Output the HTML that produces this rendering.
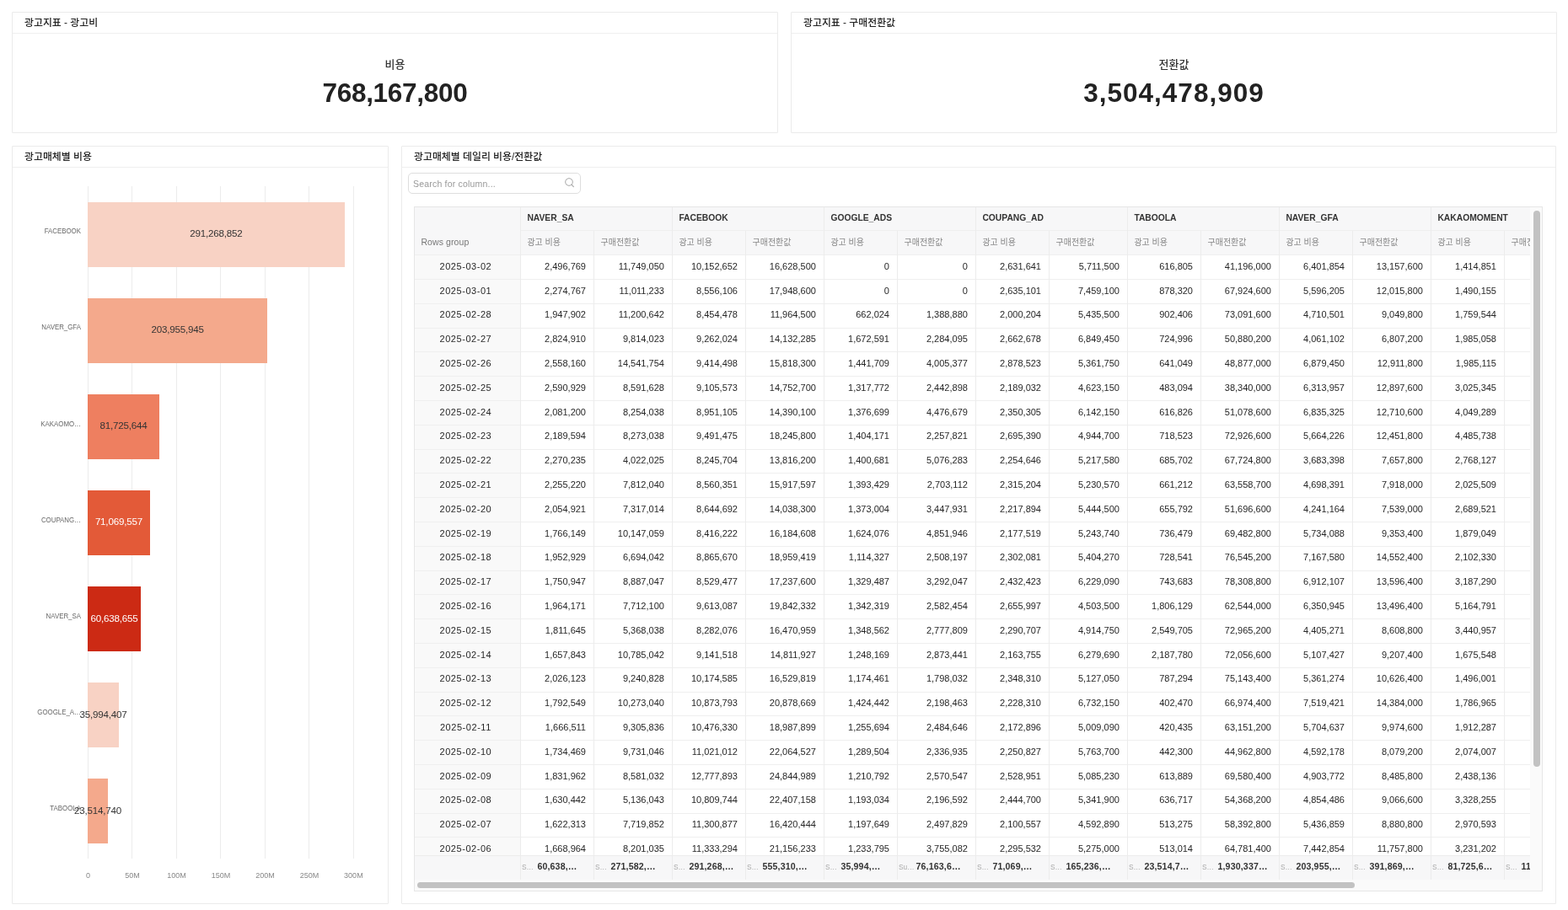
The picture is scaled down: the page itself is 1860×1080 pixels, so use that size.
<!DOCTYPE html>
<html lang="ko"><head><meta charset="utf-8"><title>dashboard</title>
<style>
*{box-sizing:border-box;margin:0;padding:0}
html,body{width:1860px;height:1080px;overflow:hidden;background:#fff}
body{position:relative;font-family:"Liberation Sans","Noto Sans CJK KR",sans-serif;color:#333}
.ab{position:absolute}
.panel{position:absolute;border:1px solid #ebebeb;border-radius:1px;background:#fff}
.ph{position:absolute;left:0;right:0;top:0;height:25px;border-bottom:1px solid #efefef;font-size:11.9px;line-height:25.4px;padding-left:14px;color:#222;font-weight:500;white-space:nowrap}
.bn{position:absolute;left:0;right:0;text-align:center;white-space:nowrap}
.bl{font-size:13px;color:#333;font-weight:500}
.bv{font-size:31.5px;font-weight:bold;color:#222}
.yl{position:absolute;font-size:9px;color:#666;text-align:right;width:70px;white-space:nowrap;transform:scaleX(0.875);transform-origin:100% 50%}
.xl{position:absolute;font-size:9px;color:#888;text-align:center;width:40px;white-space:nowrap}
.gl{position:absolute;width:1px;background:#ececec}
.bar{position:absolute}
.bt{position:absolute;font-size:11.6px;letter-spacing:-0.2px;white-space:nowrap;text-align:center;width:120px}
.c{position:absolute;white-space:nowrap;overflow:hidden;font-size:11px;color:#262626}
.hd{background:#f7f7f8}
.num{text-align:right;padding-right:9.5px}
.vl{position:absolute;width:1px;background:#ececec}
.hl{position:absolute;height:1px;background:#efefef}
</style></head><body>

<div class="panel" style="left:14px;top:14px;width:909px;height:144px"><div class="ph">광고지표 - 광고비</div><div class="bn bl" style="top:50.5px">비용</div><div class="bn bv" style="top:76.5px;letter-spacing:-0.27px">768,167,800</div></div>
<div class="panel" style="left:938px;top:14px;width:909px;height:144px"><div class="ph">광고지표 - 구매전환값</div><div class="bn bl" style="top:50.5px">전환값</div><div class="bn bv" style="top:76.5px;letter-spacing:1.0px">3,504,478,909</div></div>
<div class="panel" style="left:14px;top:173px;width:447px;height:900px"><div class="ph">광고매체별 비용</div></div>
<div class="gl" style="left:104.00px;top:221px;height:798px"></div>
<div class="xl" style="left:84.50px;top:1034px">0</div>
<div class="gl" style="left:156.48px;top:221px;height:798px"></div>
<div class="xl" style="left:136.98px;top:1034px">50M</div>
<div class="gl" style="left:208.96px;top:221px;height:798px"></div>
<div class="xl" style="left:189.46px;top:1034px">100M</div>
<div class="gl" style="left:261.44px;top:221px;height:798px"></div>
<div class="xl" style="left:241.94px;top:1034px">150M</div>
<div class="gl" style="left:313.92px;top:221px;height:798px"></div>
<div class="xl" style="left:294.42px;top:1034px">200M</div>
<div class="gl" style="left:366.40px;top:221px;height:798px"></div>
<div class="xl" style="left:346.90px;top:1034px">250M</div>
<div class="gl" style="left:418.88px;top:221px;height:798px"></div>
<div class="xl" style="left:399.38px;top:1034px">300M</div>
<div class="bar" style="left:104px;top:239.50px;width:304.92px;height:77.3px;background:#f8d2c4"></div>
<div class="yl" style="left:26px;top:269.30px">FACEBOOK</div>
<div class="bt" style="left:196.46px;top:270.10px;color:#333">291,268,852</div>
<div class="bar" style="left:104px;top:353.60px;width:213.27px;height:77.3px;background:#f4a98c"></div>
<div class="yl" style="left:26px;top:383.40px">NAVER_GFA</div>
<div class="bt" style="left:150.64px;top:384.20px;color:#333">203,955,945</div>
<div class="bar" style="left:104px;top:467.70px;width:84.98px;height:77.3px;background:#ee7f60"></div>
<div class="yl" style="left:26px;top:497.50px">KAKAOMO…</div>
<div class="bt" style="left:86.49px;top:498.30px;color:#333">81,725,644</div>
<div class="bar" style="left:104px;top:581.80px;width:73.79px;height:77.3px;background:#e35a38"></div>
<div class="yl" style="left:26px;top:611.60px">COUPANG…</div>
<div class="bt" style="left:80.90px;top:612.40px;color:#fff">71,069,557</div>
<div class="bar" style="left:104px;top:695.90px;width:62.85px;height:77.3px;background:#cc2a14"></div>
<div class="yl" style="left:26px;top:725.70px">NAVER_SA</div>
<div class="bt" style="left:75.42px;top:726.50px;color:#fff">60,638,655</div>
<div class="bar" style="left:104px;top:810.00px;width:36.98px;height:77.3px;background:#f8d2c4"></div>
<div class="yl" style="left:26px;top:839.80px">GOOGLE_A…</div>
<div class="bt" style="left:62.49px;top:840.60px;color:#333">35,994,407</div>
<div class="bar" style="left:104px;top:924.10px;width:23.88px;height:77.3px;background:#f4a98c"></div>
<div class="yl" style="left:26px;top:953.90px">TABOOLA</div>
<div class="bt" style="left:55.94px;top:954.70px;color:#333">23,514,740</div>
<div class="panel" style="left:476px;top:173px;width:1370px;height:900px"><div class="ph">광고매체별 데일리 비용/전환값</div></div>
<div class="ab" style="left:484px;top:205px;width:204.5px;height:25px;border:1px solid #dedede;border-radius:5px;background:#fff"></div>
<div class="ab" style="left:490px;top:211.5px;font-size:10.5px;letter-spacing:0.2px;color:#999;white-space:nowrap">Search for column...</div>
<svg class="ab" style="left:668.7px;top:210px" width="14" height="14" viewBox="0 0 14 14"><circle cx="6" cy="6" r="4.3" fill="none" stroke="#a6a6a6" stroke-width="1"/><path d="M9.2 9.3 L11.4 11.6" stroke="#a6a6a6" stroke-width="1.1" stroke-linecap="round"/></svg>
<div class="ab" style="left:491.00px;top:245.00px;width:1339.00px;height:813.00px;background:#fafafa"></div>
<div class="ab" style="left:491.40px;top:245.20px;width:1324.00px;height:798.60px;overflow:hidden;background:#fff">
<div class="c hd" style="left:0;top:0;width:2000px;height:57.60px"></div>
<div class="c" style="left:0;top:57.60px;width:126.00px;height:800px;background:#f9f9f9"></div>
<div class="c" style="left:8px;top:35.80px;color:#777;font-size:10.5px;letter-spacing:0.1px">Rows group</div>
<div class="c" style="left:134.00px;top:8.3px;font-weight:bold;font-size:10.3px;color:#333">NAVER_SA</div>
<div class="c" style="left:134.00px;top:34.30px;font-size:10px;color:#888">광고 비용</div>
<div class="c" style="left:221.10px;top:34.30px;font-size:10px;color:#888;width:84.90px">구매전환값</div>
<div class="c" style="left:314.00px;top:8.3px;font-weight:bold;font-size:10.3px;color:#333">FACEBOOK</div>
<div class="c" style="left:314.00px;top:34.30px;font-size:10px;color:#888">광고 비용</div>
<div class="c" style="left:401.10px;top:34.30px;font-size:10px;color:#888;width:84.90px">구매전환값</div>
<div class="c" style="left:494.00px;top:8.3px;font-weight:bold;font-size:10.3px;color:#333">GOOGLE_ADS</div>
<div class="c" style="left:494.00px;top:34.30px;font-size:10px;color:#888">광고 비용</div>
<div class="c" style="left:581.10px;top:34.30px;font-size:10px;color:#888;width:84.90px">구매전환값</div>
<div class="c" style="left:674.00px;top:8.3px;font-weight:bold;font-size:10.3px;color:#333">COUPANG_AD</div>
<div class="c" style="left:674.00px;top:34.30px;font-size:10px;color:#888">광고 비용</div>
<div class="c" style="left:761.10px;top:34.30px;font-size:10px;color:#888;width:84.90px">구매전환값</div>
<div class="c" style="left:854.00px;top:8.3px;font-weight:bold;font-size:10.3px;color:#333">TABOOLA</div>
<div class="c" style="left:854.00px;top:34.30px;font-size:10px;color:#888">광고 비용</div>
<div class="c" style="left:941.10px;top:34.30px;font-size:10px;color:#888;width:84.90px">구매전환값</div>
<div class="c" style="left:1034.00px;top:8.3px;font-weight:bold;font-size:10.3px;color:#333">NAVER_GFA</div>
<div class="c" style="left:1034.00px;top:34.30px;font-size:10px;color:#888">광고 비용</div>
<div class="c" style="left:1121.10px;top:34.30px;font-size:10px;color:#888;width:84.90px">구매전환값</div>
<div class="c" style="left:1214.00px;top:8.3px;font-weight:bold;font-size:10.3px;color:#333">KAKAOMOMENT</div>
<div class="c" style="left:1214.00px;top:34.30px;font-size:10px;color:#888">광고 비용</div>
<div class="c" style="left:1301.10px;top:34.30px;font-size:10px;color:#888;width:84.90px">구매전환값</div>
<div class="c" style="left:0;top:64.60px;width:126.00px;text-align:center;letter-spacing:0.55px;padding-right:4px">2025-03-02</div>
<div class="c num" style="left:126.00px;top:64.60px;width:87.10px">2,496,769</div>
<div class="c num" style="left:213.10px;top:64.60px;width:92.90px">11,749,050</div>
<div class="c num" style="left:306.00px;top:64.60px;width:87.10px">10,152,652</div>
<div class="c num" style="left:393.10px;top:64.60px;width:92.90px">16,628,500</div>
<div class="c num" style="left:486.00px;top:64.60px;width:87.10px">0</div>
<div class="c num" style="left:573.10px;top:64.60px;width:92.90px">0</div>
<div class="c num" style="left:666.00px;top:64.60px;width:87.10px">2,631,641</div>
<div class="c num" style="left:753.10px;top:64.60px;width:92.90px">5,711,500</div>
<div class="c num" style="left:846.00px;top:64.60px;width:87.10px">616,805</div>
<div class="c num" style="left:933.10px;top:64.60px;width:92.90px">41,196,000</div>
<div class="c num" style="left:1026.00px;top:64.60px;width:87.10px">6,401,854</div>
<div class="c num" style="left:1113.10px;top:64.60px;width:92.90px">13,157,600</div>
<div class="c num" style="left:1206.00px;top:64.60px;width:87.10px">1,414,851</div>
<div class="c" style="left:0;top:93.40px;width:126.00px;text-align:center;letter-spacing:0.55px;padding-right:4px">2025-03-01</div>
<div class="c num" style="left:126.00px;top:93.40px;width:87.10px">2,274,767</div>
<div class="c num" style="left:213.10px;top:93.40px;width:92.90px">11,011,233</div>
<div class="c num" style="left:306.00px;top:93.40px;width:87.10px">8,556,106</div>
<div class="c num" style="left:393.10px;top:93.40px;width:92.90px">17,948,600</div>
<div class="c num" style="left:486.00px;top:93.40px;width:87.10px">0</div>
<div class="c num" style="left:573.10px;top:93.40px;width:92.90px">0</div>
<div class="c num" style="left:666.00px;top:93.40px;width:87.10px">2,635,101</div>
<div class="c num" style="left:753.10px;top:93.40px;width:92.90px">7,459,100</div>
<div class="c num" style="left:846.00px;top:93.40px;width:87.10px">878,320</div>
<div class="c num" style="left:933.10px;top:93.40px;width:92.90px">67,924,600</div>
<div class="c num" style="left:1026.00px;top:93.40px;width:87.10px">5,596,205</div>
<div class="c num" style="left:1113.10px;top:93.40px;width:92.90px">12,015,800</div>
<div class="c num" style="left:1206.00px;top:93.40px;width:87.10px">1,490,155</div>
<div class="c" style="left:0;top:122.20px;width:126.00px;text-align:center;letter-spacing:0.55px;padding-right:4px">2025-02-28</div>
<div class="c num" style="left:126.00px;top:122.20px;width:87.10px">1,947,902</div>
<div class="c num" style="left:213.10px;top:122.20px;width:92.90px">11,200,642</div>
<div class="c num" style="left:306.00px;top:122.20px;width:87.10px">8,454,478</div>
<div class="c num" style="left:393.10px;top:122.20px;width:92.90px">11,964,500</div>
<div class="c num" style="left:486.00px;top:122.20px;width:87.10px">662,024</div>
<div class="c num" style="left:573.10px;top:122.20px;width:92.90px">1,388,880</div>
<div class="c num" style="left:666.00px;top:122.20px;width:87.10px">2,000,204</div>
<div class="c num" style="left:753.10px;top:122.20px;width:92.90px">5,435,500</div>
<div class="c num" style="left:846.00px;top:122.20px;width:87.10px">902,406</div>
<div class="c num" style="left:933.10px;top:122.20px;width:92.90px">73,091,600</div>
<div class="c num" style="left:1026.00px;top:122.20px;width:87.10px">4,710,501</div>
<div class="c num" style="left:1113.10px;top:122.20px;width:92.90px">9,049,800</div>
<div class="c num" style="left:1206.00px;top:122.20px;width:87.10px">1,759,544</div>
<div class="c" style="left:0;top:151.00px;width:126.00px;text-align:center;letter-spacing:0.55px;padding-right:4px">2025-02-27</div>
<div class="c num" style="left:126.00px;top:151.00px;width:87.10px">2,824,910</div>
<div class="c num" style="left:213.10px;top:151.00px;width:92.90px">9,814,023</div>
<div class="c num" style="left:306.00px;top:151.00px;width:87.10px">9,262,024</div>
<div class="c num" style="left:393.10px;top:151.00px;width:92.90px">14,132,285</div>
<div class="c num" style="left:486.00px;top:151.00px;width:87.10px">1,672,591</div>
<div class="c num" style="left:573.10px;top:151.00px;width:92.90px">2,284,095</div>
<div class="c num" style="left:666.00px;top:151.00px;width:87.10px">2,662,678</div>
<div class="c num" style="left:753.10px;top:151.00px;width:92.90px">6,849,450</div>
<div class="c num" style="left:846.00px;top:151.00px;width:87.10px">724,996</div>
<div class="c num" style="left:933.10px;top:151.00px;width:92.90px">50,880,200</div>
<div class="c num" style="left:1026.00px;top:151.00px;width:87.10px">4,061,102</div>
<div class="c num" style="left:1113.10px;top:151.00px;width:92.90px">6,807,200</div>
<div class="c num" style="left:1206.00px;top:151.00px;width:87.10px">1,985,058</div>
<div class="c" style="left:0;top:179.80px;width:126.00px;text-align:center;letter-spacing:0.55px;padding-right:4px">2025-02-26</div>
<div class="c num" style="left:126.00px;top:179.80px;width:87.10px">2,558,160</div>
<div class="c num" style="left:213.10px;top:179.80px;width:92.90px">14,541,754</div>
<div class="c num" style="left:306.00px;top:179.80px;width:87.10px">9,414,498</div>
<div class="c num" style="left:393.10px;top:179.80px;width:92.90px">15,818,300</div>
<div class="c num" style="left:486.00px;top:179.80px;width:87.10px">1,441,709</div>
<div class="c num" style="left:573.10px;top:179.80px;width:92.90px">4,005,377</div>
<div class="c num" style="left:666.00px;top:179.80px;width:87.10px">2,878,523</div>
<div class="c num" style="left:753.10px;top:179.80px;width:92.90px">5,361,750</div>
<div class="c num" style="left:846.00px;top:179.80px;width:87.10px">641,049</div>
<div class="c num" style="left:933.10px;top:179.80px;width:92.90px">48,877,000</div>
<div class="c num" style="left:1026.00px;top:179.80px;width:87.10px">6,879,450</div>
<div class="c num" style="left:1113.10px;top:179.80px;width:92.90px">12,911,800</div>
<div class="c num" style="left:1206.00px;top:179.80px;width:87.10px">1,985,115</div>
<div class="c" style="left:0;top:208.60px;width:126.00px;text-align:center;letter-spacing:0.55px;padding-right:4px">2025-02-25</div>
<div class="c num" style="left:126.00px;top:208.60px;width:87.10px">2,590,929</div>
<div class="c num" style="left:213.10px;top:208.60px;width:92.90px">8,591,628</div>
<div class="c num" style="left:306.00px;top:208.60px;width:87.10px">9,105,573</div>
<div class="c num" style="left:393.10px;top:208.60px;width:92.90px">14,752,700</div>
<div class="c num" style="left:486.00px;top:208.60px;width:87.10px">1,317,772</div>
<div class="c num" style="left:573.10px;top:208.60px;width:92.90px">2,442,898</div>
<div class="c num" style="left:666.00px;top:208.60px;width:87.10px">2,189,032</div>
<div class="c num" style="left:753.10px;top:208.60px;width:92.90px">4,623,150</div>
<div class="c num" style="left:846.00px;top:208.60px;width:87.10px">483,094</div>
<div class="c num" style="left:933.10px;top:208.60px;width:92.90px">38,340,000</div>
<div class="c num" style="left:1026.00px;top:208.60px;width:87.10px">6,313,957</div>
<div class="c num" style="left:1113.10px;top:208.60px;width:92.90px">12,897,600</div>
<div class="c num" style="left:1206.00px;top:208.60px;width:87.10px">3,025,345</div>
<div class="c" style="left:0;top:237.40px;width:126.00px;text-align:center;letter-spacing:0.55px;padding-right:4px">2025-02-24</div>
<div class="c num" style="left:126.00px;top:237.40px;width:87.10px">2,081,200</div>
<div class="c num" style="left:213.10px;top:237.40px;width:92.90px">8,254,038</div>
<div class="c num" style="left:306.00px;top:237.40px;width:87.10px">8,951,105</div>
<div class="c num" style="left:393.10px;top:237.40px;width:92.90px">14,390,100</div>
<div class="c num" style="left:486.00px;top:237.40px;width:87.10px">1,376,699</div>
<div class="c num" style="left:573.10px;top:237.40px;width:92.90px">4,476,679</div>
<div class="c num" style="left:666.00px;top:237.40px;width:87.10px">2,350,305</div>
<div class="c num" style="left:753.10px;top:237.40px;width:92.90px">6,142,150</div>
<div class="c num" style="left:846.00px;top:237.40px;width:87.10px">616,826</div>
<div class="c num" style="left:933.10px;top:237.40px;width:92.90px">51,078,600</div>
<div class="c num" style="left:1026.00px;top:237.40px;width:87.10px">6,835,325</div>
<div class="c num" style="left:1113.10px;top:237.40px;width:92.90px">12,710,600</div>
<div class="c num" style="left:1206.00px;top:237.40px;width:87.10px">4,049,289</div>
<div class="c" style="left:0;top:266.20px;width:126.00px;text-align:center;letter-spacing:0.55px;padding-right:4px">2025-02-23</div>
<div class="c num" style="left:126.00px;top:266.20px;width:87.10px">2,189,594</div>
<div class="c num" style="left:213.10px;top:266.20px;width:92.90px">8,273,038</div>
<div class="c num" style="left:306.00px;top:266.20px;width:87.10px">9,491,475</div>
<div class="c num" style="left:393.10px;top:266.20px;width:92.90px">18,245,800</div>
<div class="c num" style="left:486.00px;top:266.20px;width:87.10px">1,404,171</div>
<div class="c num" style="left:573.10px;top:266.20px;width:92.90px">2,257,821</div>
<div class="c num" style="left:666.00px;top:266.20px;width:87.10px">2,695,390</div>
<div class="c num" style="left:753.10px;top:266.20px;width:92.90px">4,944,700</div>
<div class="c num" style="left:846.00px;top:266.20px;width:87.10px">718,523</div>
<div class="c num" style="left:933.10px;top:266.20px;width:92.90px">72,926,600</div>
<div class="c num" style="left:1026.00px;top:266.20px;width:87.10px">5,664,226</div>
<div class="c num" style="left:1113.10px;top:266.20px;width:92.90px">12,451,800</div>
<div class="c num" style="left:1206.00px;top:266.20px;width:87.10px">4,485,738</div>
<div class="c" style="left:0;top:295.00px;width:126.00px;text-align:center;letter-spacing:0.55px;padding-right:4px">2025-02-22</div>
<div class="c num" style="left:126.00px;top:295.00px;width:87.10px">2,270,235</div>
<div class="c num" style="left:213.10px;top:295.00px;width:92.90px">4,022,025</div>
<div class="c num" style="left:306.00px;top:295.00px;width:87.10px">8,245,704</div>
<div class="c num" style="left:393.10px;top:295.00px;width:92.90px">13,816,200</div>
<div class="c num" style="left:486.00px;top:295.00px;width:87.10px">1,400,681</div>
<div class="c num" style="left:573.10px;top:295.00px;width:92.90px">5,076,283</div>
<div class="c num" style="left:666.00px;top:295.00px;width:87.10px">2,254,646</div>
<div class="c num" style="left:753.10px;top:295.00px;width:92.90px">5,217,580</div>
<div class="c num" style="left:846.00px;top:295.00px;width:87.10px">685,702</div>
<div class="c num" style="left:933.10px;top:295.00px;width:92.90px">67,724,800</div>
<div class="c num" style="left:1026.00px;top:295.00px;width:87.10px">3,683,398</div>
<div class="c num" style="left:1113.10px;top:295.00px;width:92.90px">7,657,800</div>
<div class="c num" style="left:1206.00px;top:295.00px;width:87.10px">2,768,127</div>
<div class="c" style="left:0;top:323.80px;width:126.00px;text-align:center;letter-spacing:0.55px;padding-right:4px">2025-02-21</div>
<div class="c num" style="left:126.00px;top:323.80px;width:87.10px">2,255,220</div>
<div class="c num" style="left:213.10px;top:323.80px;width:92.90px">7,812,040</div>
<div class="c num" style="left:306.00px;top:323.80px;width:87.10px">8,560,351</div>
<div class="c num" style="left:393.10px;top:323.80px;width:92.90px">15,917,597</div>
<div class="c num" style="left:486.00px;top:323.80px;width:87.10px">1,393,429</div>
<div class="c num" style="left:573.10px;top:323.80px;width:92.90px">2,703,112</div>
<div class="c num" style="left:666.00px;top:323.80px;width:87.10px">2,315,204</div>
<div class="c num" style="left:753.10px;top:323.80px;width:92.90px">5,230,570</div>
<div class="c num" style="left:846.00px;top:323.80px;width:87.10px">661,212</div>
<div class="c num" style="left:933.10px;top:323.80px;width:92.90px">63,558,700</div>
<div class="c num" style="left:1026.00px;top:323.80px;width:87.10px">4,698,391</div>
<div class="c num" style="left:1113.10px;top:323.80px;width:92.90px">7,918,000</div>
<div class="c num" style="left:1206.00px;top:323.80px;width:87.10px">2,025,509</div>
<div class="c" style="left:0;top:352.60px;width:126.00px;text-align:center;letter-spacing:0.55px;padding-right:4px">2025-02-20</div>
<div class="c num" style="left:126.00px;top:352.60px;width:87.10px">2,054,921</div>
<div class="c num" style="left:213.10px;top:352.60px;width:92.90px">7,317,014</div>
<div class="c num" style="left:306.00px;top:352.60px;width:87.10px">8,644,692</div>
<div class="c num" style="left:393.10px;top:352.60px;width:92.90px">14,038,300</div>
<div class="c num" style="left:486.00px;top:352.60px;width:87.10px">1,373,004</div>
<div class="c num" style="left:573.10px;top:352.60px;width:92.90px">3,447,931</div>
<div class="c num" style="left:666.00px;top:352.60px;width:87.10px">2,217,894</div>
<div class="c num" style="left:753.10px;top:352.60px;width:92.90px">5,444,500</div>
<div class="c num" style="left:846.00px;top:352.60px;width:87.10px">655,792</div>
<div class="c num" style="left:933.10px;top:352.60px;width:92.90px">51,696,600</div>
<div class="c num" style="left:1026.00px;top:352.60px;width:87.10px">4,241,164</div>
<div class="c num" style="left:1113.10px;top:352.60px;width:92.90px">7,539,000</div>
<div class="c num" style="left:1206.00px;top:352.60px;width:87.10px">2,689,521</div>
<div class="c" style="left:0;top:381.40px;width:126.00px;text-align:center;letter-spacing:0.55px;padding-right:4px">2025-02-19</div>
<div class="c num" style="left:126.00px;top:381.40px;width:87.10px">1,766,149</div>
<div class="c num" style="left:213.10px;top:381.40px;width:92.90px">10,147,059</div>
<div class="c num" style="left:306.00px;top:381.40px;width:87.10px">8,416,222</div>
<div class="c num" style="left:393.10px;top:381.40px;width:92.90px">16,184,608</div>
<div class="c num" style="left:486.00px;top:381.40px;width:87.10px">1,624,076</div>
<div class="c num" style="left:573.10px;top:381.40px;width:92.90px">4,851,946</div>
<div class="c num" style="left:666.00px;top:381.40px;width:87.10px">2,177,519</div>
<div class="c num" style="left:753.10px;top:381.40px;width:92.90px">5,243,740</div>
<div class="c num" style="left:846.00px;top:381.40px;width:87.10px">736,479</div>
<div class="c num" style="left:933.10px;top:381.40px;width:92.90px">69,482,800</div>
<div class="c num" style="left:1026.00px;top:381.40px;width:87.10px">5,734,088</div>
<div class="c num" style="left:1113.10px;top:381.40px;width:92.90px">9,353,400</div>
<div class="c num" style="left:1206.00px;top:381.40px;width:87.10px">1,879,049</div>
<div class="c" style="left:0;top:410.20px;width:126.00px;text-align:center;letter-spacing:0.55px;padding-right:4px">2025-02-18</div>
<div class="c num" style="left:126.00px;top:410.20px;width:87.10px">1,952,929</div>
<div class="c num" style="left:213.10px;top:410.20px;width:92.90px">6,694,042</div>
<div class="c num" style="left:306.00px;top:410.20px;width:87.10px">8,865,670</div>
<div class="c num" style="left:393.10px;top:410.20px;width:92.90px">18,959,419</div>
<div class="c num" style="left:486.00px;top:410.20px;width:87.10px">1,114,327</div>
<div class="c num" style="left:573.10px;top:410.20px;width:92.90px">2,508,197</div>
<div class="c num" style="left:666.00px;top:410.20px;width:87.10px">2,302,081</div>
<div class="c num" style="left:753.10px;top:410.20px;width:92.90px">5,404,270</div>
<div class="c num" style="left:846.00px;top:410.20px;width:87.10px">728,541</div>
<div class="c num" style="left:933.10px;top:410.20px;width:92.90px">76,545,200</div>
<div class="c num" style="left:1026.00px;top:410.20px;width:87.10px">7,167,580</div>
<div class="c num" style="left:1113.10px;top:410.20px;width:92.90px">14,552,400</div>
<div class="c num" style="left:1206.00px;top:410.20px;width:87.10px">2,102,330</div>
<div class="c" style="left:0;top:439.00px;width:126.00px;text-align:center;letter-spacing:0.55px;padding-right:4px">2025-02-17</div>
<div class="c num" style="left:126.00px;top:439.00px;width:87.10px">1,750,947</div>
<div class="c num" style="left:213.10px;top:439.00px;width:92.90px">8,887,047</div>
<div class="c num" style="left:306.00px;top:439.00px;width:87.10px">8,529,477</div>
<div class="c num" style="left:393.10px;top:439.00px;width:92.90px">17,237,600</div>
<div class="c num" style="left:486.00px;top:439.00px;width:87.10px">1,329,487</div>
<div class="c num" style="left:573.10px;top:439.00px;width:92.90px">3,292,047</div>
<div class="c num" style="left:666.00px;top:439.00px;width:87.10px">2,432,423</div>
<div class="c num" style="left:753.10px;top:439.00px;width:92.90px">6,229,090</div>
<div class="c num" style="left:846.00px;top:439.00px;width:87.10px">743,683</div>
<div class="c num" style="left:933.10px;top:439.00px;width:92.90px">78,308,800</div>
<div class="c num" style="left:1026.00px;top:439.00px;width:87.10px">6,912,107</div>
<div class="c num" style="left:1113.10px;top:439.00px;width:92.90px">13,596,400</div>
<div class="c num" style="left:1206.00px;top:439.00px;width:87.10px">3,187,290</div>
<div class="c" style="left:0;top:467.80px;width:126.00px;text-align:center;letter-spacing:0.55px;padding-right:4px">2025-02-16</div>
<div class="c num" style="left:126.00px;top:467.80px;width:87.10px">1,964,171</div>
<div class="c num" style="left:213.10px;top:467.80px;width:92.90px">7,712,100</div>
<div class="c num" style="left:306.00px;top:467.80px;width:87.10px">9,613,087</div>
<div class="c num" style="left:393.10px;top:467.80px;width:92.90px">19,842,332</div>
<div class="c num" style="left:486.00px;top:467.80px;width:87.10px">1,342,319</div>
<div class="c num" style="left:573.10px;top:467.80px;width:92.90px">2,582,454</div>
<div class="c num" style="left:666.00px;top:467.80px;width:87.10px">2,655,997</div>
<div class="c num" style="left:753.10px;top:467.80px;width:92.90px">4,503,500</div>
<div class="c num" style="left:846.00px;top:467.80px;width:87.10px">1,806,129</div>
<div class="c num" style="left:933.10px;top:467.80px;width:92.90px">62,544,000</div>
<div class="c num" style="left:1026.00px;top:467.80px;width:87.10px">6,350,945</div>
<div class="c num" style="left:1113.10px;top:467.80px;width:92.90px">13,496,400</div>
<div class="c num" style="left:1206.00px;top:467.80px;width:87.10px">5,164,791</div>
<div class="c" style="left:0;top:496.60px;width:126.00px;text-align:center;letter-spacing:0.55px;padding-right:4px">2025-02-15</div>
<div class="c num" style="left:126.00px;top:496.60px;width:87.10px">1,811,645</div>
<div class="c num" style="left:213.10px;top:496.60px;width:92.90px">5,368,038</div>
<div class="c num" style="left:306.00px;top:496.60px;width:87.10px">8,282,076</div>
<div class="c num" style="left:393.10px;top:496.60px;width:92.90px">16,470,959</div>
<div class="c num" style="left:486.00px;top:496.60px;width:87.10px">1,348,562</div>
<div class="c num" style="left:573.10px;top:496.60px;width:92.90px">2,777,809</div>
<div class="c num" style="left:666.00px;top:496.60px;width:87.10px">2,290,707</div>
<div class="c num" style="left:753.10px;top:496.60px;width:92.90px">4,914,750</div>
<div class="c num" style="left:846.00px;top:496.60px;width:87.10px">2,549,705</div>
<div class="c num" style="left:933.10px;top:496.60px;width:92.90px">72,965,200</div>
<div class="c num" style="left:1026.00px;top:496.60px;width:87.10px">4,405,271</div>
<div class="c num" style="left:1113.10px;top:496.60px;width:92.90px">8,608,800</div>
<div class="c num" style="left:1206.00px;top:496.60px;width:87.10px">3,440,957</div>
<div class="c" style="left:0;top:525.40px;width:126.00px;text-align:center;letter-spacing:0.55px;padding-right:4px">2025-02-14</div>
<div class="c num" style="left:126.00px;top:525.40px;width:87.10px">1,657,843</div>
<div class="c num" style="left:213.10px;top:525.40px;width:92.90px">10,785,042</div>
<div class="c num" style="left:306.00px;top:525.40px;width:87.10px">9,141,518</div>
<div class="c num" style="left:393.10px;top:525.40px;width:92.90px">14,811,927</div>
<div class="c num" style="left:486.00px;top:525.40px;width:87.10px">1,248,169</div>
<div class="c num" style="left:573.10px;top:525.40px;width:92.90px">2,873,441</div>
<div class="c num" style="left:666.00px;top:525.40px;width:87.10px">2,163,755</div>
<div class="c num" style="left:753.10px;top:525.40px;width:92.90px">6,279,690</div>
<div class="c num" style="left:846.00px;top:525.40px;width:87.10px">2,187,780</div>
<div class="c num" style="left:933.10px;top:525.40px;width:92.90px">72,056,600</div>
<div class="c num" style="left:1026.00px;top:525.40px;width:87.10px">5,107,427</div>
<div class="c num" style="left:1113.10px;top:525.40px;width:92.90px">9,207,400</div>
<div class="c num" style="left:1206.00px;top:525.40px;width:87.10px">1,675,548</div>
<div class="c" style="left:0;top:554.20px;width:126.00px;text-align:center;letter-spacing:0.55px;padding-right:4px">2025-02-13</div>
<div class="c num" style="left:126.00px;top:554.20px;width:87.10px">2,026,123</div>
<div class="c num" style="left:213.10px;top:554.20px;width:92.90px">9,240,828</div>
<div class="c num" style="left:306.00px;top:554.20px;width:87.10px">10,174,585</div>
<div class="c num" style="left:393.10px;top:554.20px;width:92.90px">16,529,819</div>
<div class="c num" style="left:486.00px;top:554.20px;width:87.10px">1,174,461</div>
<div class="c num" style="left:573.10px;top:554.20px;width:92.90px">1,798,032</div>
<div class="c num" style="left:666.00px;top:554.20px;width:87.10px">2,348,310</div>
<div class="c num" style="left:753.10px;top:554.20px;width:92.90px">5,127,050</div>
<div class="c num" style="left:846.00px;top:554.20px;width:87.10px">787,294</div>
<div class="c num" style="left:933.10px;top:554.20px;width:92.90px">75,143,400</div>
<div class="c num" style="left:1026.00px;top:554.20px;width:87.10px">5,361,274</div>
<div class="c num" style="left:1113.10px;top:554.20px;width:92.90px">10,626,400</div>
<div class="c num" style="left:1206.00px;top:554.20px;width:87.10px">1,496,001</div>
<div class="c" style="left:0;top:583.00px;width:126.00px;text-align:center;letter-spacing:0.55px;padding-right:4px">2025-02-12</div>
<div class="c num" style="left:126.00px;top:583.00px;width:87.10px">1,792,549</div>
<div class="c num" style="left:213.10px;top:583.00px;width:92.90px">10,273,040</div>
<div class="c num" style="left:306.00px;top:583.00px;width:87.10px">10,873,793</div>
<div class="c num" style="left:393.10px;top:583.00px;width:92.90px">20,878,669</div>
<div class="c num" style="left:486.00px;top:583.00px;width:87.10px">1,424,442</div>
<div class="c num" style="left:573.10px;top:583.00px;width:92.90px">2,198,463</div>
<div class="c num" style="left:666.00px;top:583.00px;width:87.10px">2,228,310</div>
<div class="c num" style="left:753.10px;top:583.00px;width:92.90px">6,732,150</div>
<div class="c num" style="left:846.00px;top:583.00px;width:87.10px">402,470</div>
<div class="c num" style="left:933.10px;top:583.00px;width:92.90px">66,974,400</div>
<div class="c num" style="left:1026.00px;top:583.00px;width:87.10px">7,519,421</div>
<div class="c num" style="left:1113.10px;top:583.00px;width:92.90px">14,384,000</div>
<div class="c num" style="left:1206.00px;top:583.00px;width:87.10px">1,786,965</div>
<div class="c" style="left:0;top:611.80px;width:126.00px;text-align:center;letter-spacing:0.55px;padding-right:4px">2025-02-11</div>
<div class="c num" style="left:126.00px;top:611.80px;width:87.10px">1,666,511</div>
<div class="c num" style="left:213.10px;top:611.80px;width:92.90px">9,305,836</div>
<div class="c num" style="left:306.00px;top:611.80px;width:87.10px">10,476,330</div>
<div class="c num" style="left:393.10px;top:611.80px;width:92.90px">18,987,899</div>
<div class="c num" style="left:486.00px;top:611.80px;width:87.10px">1,255,694</div>
<div class="c num" style="left:573.10px;top:611.80px;width:92.90px">2,484,646</div>
<div class="c num" style="left:666.00px;top:611.80px;width:87.10px">2,172,896</div>
<div class="c num" style="left:753.10px;top:611.80px;width:92.90px">5,009,090</div>
<div class="c num" style="left:846.00px;top:611.80px;width:87.10px">420,435</div>
<div class="c num" style="left:933.10px;top:611.80px;width:92.90px">63,151,200</div>
<div class="c num" style="left:1026.00px;top:611.80px;width:87.10px">5,704,637</div>
<div class="c num" style="left:1113.10px;top:611.80px;width:92.90px">9,974,600</div>
<div class="c num" style="left:1206.00px;top:611.80px;width:87.10px">1,912,287</div>
<div class="c" style="left:0;top:640.60px;width:126.00px;text-align:center;letter-spacing:0.55px;padding-right:4px">2025-02-10</div>
<div class="c num" style="left:126.00px;top:640.60px;width:87.10px">1,734,469</div>
<div class="c num" style="left:213.10px;top:640.60px;width:92.90px">9,731,046</div>
<div class="c num" style="left:306.00px;top:640.60px;width:87.10px">11,021,012</div>
<div class="c num" style="left:393.10px;top:640.60px;width:92.90px">22,064,527</div>
<div class="c num" style="left:486.00px;top:640.60px;width:87.10px">1,289,504</div>
<div class="c num" style="left:573.10px;top:640.60px;width:92.90px">2,336,935</div>
<div class="c num" style="left:666.00px;top:640.60px;width:87.10px">2,250,827</div>
<div class="c num" style="left:753.10px;top:640.60px;width:92.90px">5,763,700</div>
<div class="c num" style="left:846.00px;top:640.60px;width:87.10px">442,300</div>
<div class="c num" style="left:933.10px;top:640.60px;width:92.90px">44,962,800</div>
<div class="c num" style="left:1026.00px;top:640.60px;width:87.10px">4,592,178</div>
<div class="c num" style="left:1113.10px;top:640.60px;width:92.90px">8,079,200</div>
<div class="c num" style="left:1206.00px;top:640.60px;width:87.10px">2,074,007</div>
<div class="c" style="left:0;top:669.40px;width:126.00px;text-align:center;letter-spacing:0.55px;padding-right:4px">2025-02-09</div>
<div class="c num" style="left:126.00px;top:669.40px;width:87.10px">1,831,962</div>
<div class="c num" style="left:213.10px;top:669.40px;width:92.90px">8,581,032</div>
<div class="c num" style="left:306.00px;top:669.40px;width:87.10px">12,777,893</div>
<div class="c num" style="left:393.10px;top:669.40px;width:92.90px">24,844,989</div>
<div class="c num" style="left:486.00px;top:669.40px;width:87.10px">1,210,792</div>
<div class="c num" style="left:573.10px;top:669.40px;width:92.90px">2,570,547</div>
<div class="c num" style="left:666.00px;top:669.40px;width:87.10px">2,528,951</div>
<div class="c num" style="left:753.10px;top:669.40px;width:92.90px">5,085,230</div>
<div class="c num" style="left:846.00px;top:669.40px;width:87.10px">613,889</div>
<div class="c num" style="left:933.10px;top:669.40px;width:92.90px">69,580,400</div>
<div class="c num" style="left:1026.00px;top:669.40px;width:87.10px">4,903,772</div>
<div class="c num" style="left:1113.10px;top:669.40px;width:92.90px">8,485,800</div>
<div class="c num" style="left:1206.00px;top:669.40px;width:87.10px">2,438,136</div>
<div class="c" style="left:0;top:698.20px;width:126.00px;text-align:center;letter-spacing:0.55px;padding-right:4px">2025-02-08</div>
<div class="c num" style="left:126.00px;top:698.20px;width:87.10px">1,630,442</div>
<div class="c num" style="left:213.10px;top:698.20px;width:92.90px">5,136,043</div>
<div class="c num" style="left:306.00px;top:698.20px;width:87.10px">10,809,744</div>
<div class="c num" style="left:393.10px;top:698.20px;width:92.90px">22,407,158</div>
<div class="c num" style="left:486.00px;top:698.20px;width:87.10px">1,193,034</div>
<div class="c num" style="left:573.10px;top:698.20px;width:92.90px">2,196,592</div>
<div class="c num" style="left:666.00px;top:698.20px;width:87.10px">2,444,700</div>
<div class="c num" style="left:753.10px;top:698.20px;width:92.90px">5,341,900</div>
<div class="c num" style="left:846.00px;top:698.20px;width:87.10px">636,717</div>
<div class="c num" style="left:933.10px;top:698.20px;width:92.90px">54,368,200</div>
<div class="c num" style="left:1026.00px;top:698.20px;width:87.10px">4,854,486</div>
<div class="c num" style="left:1113.10px;top:698.20px;width:92.90px">9,066,600</div>
<div class="c num" style="left:1206.00px;top:698.20px;width:87.10px">3,328,255</div>
<div class="c" style="left:0;top:727.00px;width:126.00px;text-align:center;letter-spacing:0.55px;padding-right:4px">2025-02-07</div>
<div class="c num" style="left:126.00px;top:727.00px;width:87.10px">1,622,313</div>
<div class="c num" style="left:213.10px;top:727.00px;width:92.90px">7,719,852</div>
<div class="c num" style="left:306.00px;top:727.00px;width:87.10px">11,300,877</div>
<div class="c num" style="left:393.10px;top:727.00px;width:92.90px">16,420,444</div>
<div class="c num" style="left:486.00px;top:727.00px;width:87.10px">1,197,649</div>
<div class="c num" style="left:573.10px;top:727.00px;width:92.90px">2,497,829</div>
<div class="c num" style="left:666.00px;top:727.00px;width:87.10px">2,100,557</div>
<div class="c num" style="left:753.10px;top:727.00px;width:92.90px">4,592,890</div>
<div class="c num" style="left:846.00px;top:727.00px;width:87.10px">513,275</div>
<div class="c num" style="left:933.10px;top:727.00px;width:92.90px">58,392,800</div>
<div class="c num" style="left:1026.00px;top:727.00px;width:87.10px">5,436,859</div>
<div class="c num" style="left:1113.10px;top:727.00px;width:92.90px">8,880,800</div>
<div class="c num" style="left:1206.00px;top:727.00px;width:87.10px">2,970,593</div>
<div class="c" style="left:0;top:755.80px;width:126.00px;text-align:center;letter-spacing:0.55px;padding-right:4px">2025-02-06</div>
<div class="c num" style="left:126.00px;top:755.80px;width:87.10px">1,668,964</div>
<div class="c num" style="left:213.10px;top:755.80px;width:92.90px">8,201,035</div>
<div class="c num" style="left:306.00px;top:755.80px;width:87.10px">11,333,294</div>
<div class="c num" style="left:393.10px;top:755.80px;width:92.90px">21,156,233</div>
<div class="c num" style="left:486.00px;top:755.80px;width:87.10px">1,233,795</div>
<div class="c num" style="left:573.10px;top:755.80px;width:92.90px">3,755,082</div>
<div class="c num" style="left:666.00px;top:755.80px;width:87.10px">2,295,532</div>
<div class="c num" style="left:753.10px;top:755.80px;width:92.90px">5,275,000</div>
<div class="c num" style="left:846.00px;top:755.80px;width:87.10px">513,014</div>
<div class="c num" style="left:933.10px;top:755.80px;width:92.90px">64,781,400</div>
<div class="c num" style="left:1026.00px;top:755.80px;width:87.10px">7,442,854</div>
<div class="c num" style="left:1113.10px;top:755.80px;width:92.90px">11,757,800</div>
<div class="c num" style="left:1206.00px;top:755.80px;width:87.10px">3,231,202</div>
<div class="hl" style="left:126.00px;top:28.30px;width:2000px"></div>
<div class="hl" style="left:0;top:57.10px;width:2000px"></div>
<div class="hl" style="left:0;top:85.90px;width:2000px"></div>
<div class="hl" style="left:0;top:114.70px;width:2000px"></div>
<div class="hl" style="left:0;top:143.50px;width:2000px"></div>
<div class="hl" style="left:0;top:172.30px;width:2000px"></div>
<div class="hl" style="left:0;top:201.10px;width:2000px"></div>
<div class="hl" style="left:0;top:229.90px;width:2000px"></div>
<div class="hl" style="left:0;top:258.70px;width:2000px"></div>
<div class="hl" style="left:0;top:287.50px;width:2000px"></div>
<div class="hl" style="left:0;top:316.30px;width:2000px"></div>
<div class="hl" style="left:0;top:345.10px;width:2000px"></div>
<div class="hl" style="left:0;top:373.90px;width:2000px"></div>
<div class="hl" style="left:0;top:402.70px;width:2000px"></div>
<div class="hl" style="left:0;top:431.50px;width:2000px"></div>
<div class="hl" style="left:0;top:460.30px;width:2000px"></div>
<div class="hl" style="left:0;top:489.10px;width:2000px"></div>
<div class="hl" style="left:0;top:517.90px;width:2000px"></div>
<div class="hl" style="left:0;top:546.70px;width:2000px"></div>
<div class="hl" style="left:0;top:575.50px;width:2000px"></div>
<div class="hl" style="left:0;top:604.30px;width:2000px"></div>
<div class="hl" style="left:0;top:633.10px;width:2000px"></div>
<div class="hl" style="left:0;top:661.90px;width:2000px"></div>
<div class="hl" style="left:0;top:690.70px;width:2000px"></div>
<div class="hl" style="left:0;top:719.50px;width:2000px"></div>
<div class="hl" style="left:0;top:748.30px;width:2000px"></div>
<div class="hl" style="left:0;top:777.10px;width:2000px"></div>
<div class="vl" style="left:125.50px;top:0;height:900px"></div>
<div class="vl" style="left:212.60px;top:28.80px;height:900px"></div>
<div class="vl" style="left:305.50px;top:0.00px;height:900px"></div>
<div class="vl" style="left:392.60px;top:28.80px;height:900px"></div>
<div class="vl" style="left:485.50px;top:0.00px;height:900px"></div>
<div class="vl" style="left:572.60px;top:28.80px;height:900px"></div>
<div class="vl" style="left:665.50px;top:0.00px;height:900px"></div>
<div class="vl" style="left:752.60px;top:28.80px;height:900px"></div>
<div class="vl" style="left:845.50px;top:0.00px;height:900px"></div>
<div class="vl" style="left:932.60px;top:28.80px;height:900px"></div>
<div class="vl" style="left:1025.50px;top:0.00px;height:900px"></div>
<div class="vl" style="left:1112.60px;top:28.80px;height:900px"></div>
<div class="vl" style="left:1205.50px;top:0.00px;height:900px"></div>
<div class="vl" style="left:1292.60px;top:28.80px;height:900px"></div>
<div class="vl" style="left:1385.50px;top:0.00px;height:900px"></div>
<div class="c" style="left:0;top:769.80px;width:2000px;height:28.80px;background:#f7f7f8;border-top:1px solid #ececec"></div>
<div class="c" style="left:127.50px;top:778.40px;font-size:8.3px;color:#aaa">S…</div>
<div class="c" style="left:146.00px;top:776.90px;font-weight:bold;font-size:10.6px;letter-spacing:0.15px;color:#333">60,638,…</div>
<div class="vl" style="left:212.60px;top:769.80px;height:28.80px"></div>
<div class="c" style="left:214.60px;top:778.40px;font-size:8.3px;color:#aaa">S…</div>
<div class="c" style="left:233.10px;top:776.90px;font-weight:bold;font-size:10.6px;letter-spacing:0.15px;color:#333">271,582,…</div>
<div class="vl" style="left:305.50px;top:769.80px;height:28.80px"></div>
<div class="c" style="left:307.50px;top:778.40px;font-size:8.3px;color:#aaa">S…</div>
<div class="c" style="left:326.00px;top:776.90px;font-weight:bold;font-size:10.6px;letter-spacing:0.15px;color:#333">291,268,…</div>
<div class="vl" style="left:392.60px;top:769.80px;height:28.80px"></div>
<div class="c" style="left:394.60px;top:778.40px;font-size:8.3px;color:#aaa">S…</div>
<div class="c" style="left:413.10px;top:776.90px;font-weight:bold;font-size:10.6px;letter-spacing:0.15px;color:#333">555,310,…</div>
<div class="vl" style="left:485.50px;top:769.80px;height:28.80px"></div>
<div class="c" style="left:487.50px;top:778.40px;font-size:8.3px;color:#aaa">S…</div>
<div class="c" style="left:506.00px;top:776.90px;font-weight:bold;font-size:10.6px;letter-spacing:0.15px;color:#333">35,994,…</div>
<div class="vl" style="left:572.60px;top:769.80px;height:28.80px"></div>
<div class="c" style="left:574.60px;top:778.40px;font-size:8.3px;color:#aaa">Su…</div>
<div class="c" style="left:595.10px;top:776.90px;font-weight:bold;font-size:10.6px;letter-spacing:0.15px;color:#333">76,163,6…</div>
<div class="vl" style="left:665.50px;top:769.80px;height:28.80px"></div>
<div class="c" style="left:667.50px;top:778.40px;font-size:8.3px;color:#aaa">S…</div>
<div class="c" style="left:686.00px;top:776.90px;font-weight:bold;font-size:10.6px;letter-spacing:0.15px;color:#333">71,069,…</div>
<div class="vl" style="left:752.60px;top:769.80px;height:28.80px"></div>
<div class="c" style="left:754.60px;top:778.40px;font-size:8.3px;color:#aaa">S…</div>
<div class="c" style="left:773.10px;top:776.90px;font-weight:bold;font-size:10.6px;letter-spacing:0.15px;color:#333">165,236,…</div>
<div class="vl" style="left:845.50px;top:769.80px;height:28.80px"></div>
<div class="c" style="left:847.50px;top:778.40px;font-size:8.3px;color:#aaa">S…</div>
<div class="c" style="left:866.00px;top:776.90px;font-weight:bold;font-size:10.6px;letter-spacing:0.15px;color:#333">23,514,7…</div>
<div class="vl" style="left:932.60px;top:769.80px;height:28.80px"></div>
<div class="c" style="left:934.60px;top:778.40px;font-size:8.3px;color:#aaa">S…</div>
<div class="c" style="left:953.10px;top:776.90px;font-weight:bold;font-size:10.6px;letter-spacing:0.15px;color:#333">1,930,337…</div>
<div class="vl" style="left:1025.50px;top:769.80px;height:28.80px"></div>
<div class="c" style="left:1027.50px;top:778.40px;font-size:8.3px;color:#aaa">S…</div>
<div class="c" style="left:1046.00px;top:776.90px;font-weight:bold;font-size:10.6px;letter-spacing:0.15px;color:#333">203,955,…</div>
<div class="vl" style="left:1112.60px;top:769.80px;height:28.80px"></div>
<div class="c" style="left:1114.60px;top:778.40px;font-size:8.3px;color:#aaa">S…</div>
<div class="c" style="left:1133.10px;top:776.90px;font-weight:bold;font-size:10.6px;letter-spacing:0.15px;color:#333">391,869,…</div>
<div class="vl" style="left:1205.50px;top:769.80px;height:28.80px"></div>
<div class="c" style="left:1207.50px;top:778.40px;font-size:8.3px;color:#aaa">S…</div>
<div class="c" style="left:1226.00px;top:776.90px;font-weight:bold;font-size:10.6px;letter-spacing:0.15px;color:#333">81,725,6…</div>
<div class="vl" style="left:1292.60px;top:769.80px;height:28.80px"></div>
<div class="c" style="left:1294.60px;top:778.40px;font-size:8.3px;color:#aaa">S…</div>
<div class="c" style="left:1313.10px;top:776.90px;font-weight:bold;font-size:10.6px;letter-spacing:0.15px;color:#333">11</div>
<div class="vl" style="left:1385.50px;top:769.80px;height:28.80px"></div>
<div class="vl" style="left:125.50px;top:769.80px;height:28.80px"></div>
</div>
<div class="ab" style="left:491.00px;top:245.00px;width:1339.00px;height:813.00px;border:1px solid #e6e6e6"></div>
<div class="ab" style="left:1819px;top:249.5px;width:8px;height:660px;border-radius:4px;background:#c2c2c2"></div>
<div class="ab" style="left:495px;top:1047px;width:1111.5px;height:7px;border-radius:3.5px;background:#c2c2c2"></div>
</body></html>
